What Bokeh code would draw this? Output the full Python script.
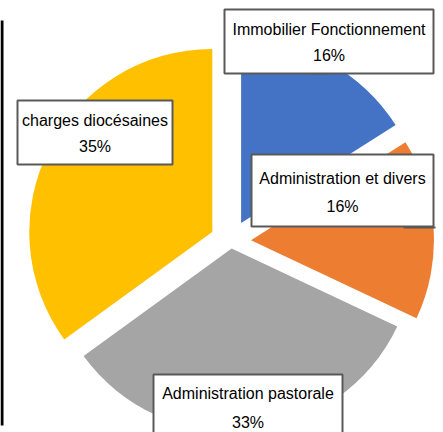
import math
from bokeh.plotting import figure
from bokeh.models import Range1d, ColumnDataSource
from bokeh.core.properties import value
from bokeh.embed import file_html
from bokeh.resources import INLINE

# ---- data ----
categories = ["Immobilier Fonctionnement", "Administration et divers",
              "Administration pastorale", "charges diocésaines"]
values = [16, 16, 33, 35]

# ---- style ----
colors = ["#4472C4", "#ED7D31", "#A5A5A5", "#FFC000"]
explode = [21, 20, 7, 21]          # px offset of each slice along its bisector
cx, cy, radius = 230.5, -241.0, 183.0
FONT = "Liberation Sans"

# label boxes (screen layout): left, right, top, bottom, line1 y, line2 y
label_boxes = [
    (224, 433, 9, 73, 29, 55),
    (251, 433, 154, 226, 178, 206),
    (153, 342, 374, 446, 393, 422),
    (17, 172, 100, 164, 120, 146),
]

total = float(sum(values))
xs, ys, starts, ends = [], [], [], []
cum = 0.0
for v, e in zip(values, explode):
    t0 = 360.0 * cum / total
    cum += v
    t1 = 360.0 * cum / total
    tm = math.radians((t0 + t1) / 2.0)
    xs.append(cx + e * math.sin(tm))
    ys.append(cy + e * math.cos(tm))
    starts.append(math.radians(90.0 - t1))
    ends.append(math.radians(90.0 - t0))

src = ColumnDataSource(dict(x=xs, y=ys, start=starts, end=ends, color=colors,
                            cat=categories, val=values))

p = figure(width=443, height=432, output_backend="svg", toolbar_location=None,
           x_range=Range1d(0, 443), y_range=Range1d(-432, 0), min_border=0)
p.axis.visible = False
p.grid.visible = False
p.outline_line_color = None
p.background_fill_color = "white"

p.wedge(x="x", y="y", radius=radius, start_angle="start", end_angle="end",
        direction="anticlock", fill_color="color",
        line_color=None, source=src)

# left black rule
p.segment(x0=[1.5], y0=[-20], x1=[1.5], y1=[-425], line_color="black", line_width=3)

# leader stubs
p.segment(x0=[313, 403], y0=[-73, -227], x1=[328, 435], y1=[-73, -227],
          line_color="#595959", line_width=2)

lefts = [b[0] for b in label_boxes]
rights = [b[1] for b in label_boxes]
tops = [-b[2] for b in label_boxes]
bottoms = [-b[3] for b in label_boxes]
p.quad(left=lefts, right=rights, top=tops, bottom=bottoms,
       fill_color="white", line_color="#595959", line_width=2)

tx = [(b[0] + b[1]) / 2.0 for b in label_boxes]
p.text(x=tx, y=[-b[4] for b in label_boxes], text=categories,
       text_font=value(FONT), text_font_size="16px", text_color="black",
       text_align="center", text_baseline="middle")
pcts = ["%d%%" % round(v / total * 100) for v in values]
p.text(x=tx, y=[-b[5] for b in label_boxes], text=pcts,
       text_font=value(FONT), text_font_size="16px", text_color="black",
       text_align="center", text_baseline="middle")

open("out.html", "w").write(file_html(p, INLINE))
